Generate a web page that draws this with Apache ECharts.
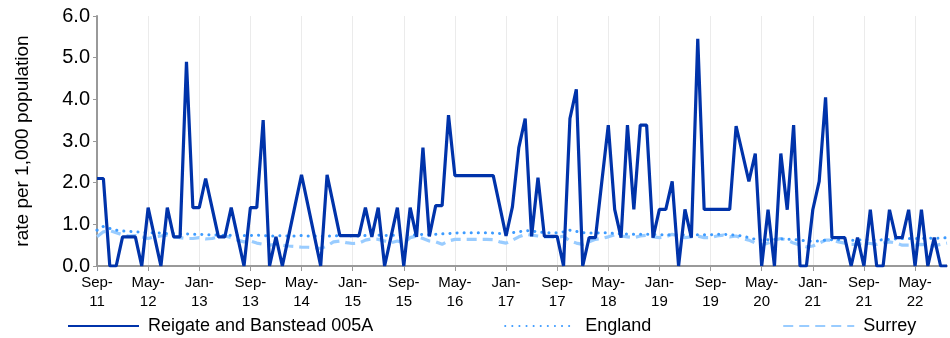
<!DOCTYPE html>
<html>
<head>
<meta charset="utf-8">
<script src="https://cdn.jsdelivr.net/npm/echarts@6/dist/echarts.min.js"></script>
<style>
  html, body { margin: 0; padding: 0; background: #fff; }
  #chart { width: 950px; height: 338px; }
</style>
</head>
<body>
<div id="chart"></div>
<script>
// Monthly rates per 1,000 population, Sep 2011 to Oct 2022
const startYear = 2011;
const startMonth = 8; // September (0-based)
const monthNames = ['Jan', 'Feb', 'Mar', 'Apr', 'May', 'Jun', 'Jul', 'Aug', 'Sep', 'Oct', 'Nov', 'Dec'];

const reigate = [
  2.1, 2.1, 0, 0, 0.7, 0.7, 0.7, 0, 1.4, 0.7,
  0, 1.4, 0.7, 0.7, 4.9, 1.4, 1.4, 2.1, 1.4, 0.7,
  0.7, 1.4, 0.7, 0, 1.4, 1.4, 3.5, 0, 0.7, 0,
  0.73, 1.46, 2.19, 1.46, 0.73, 0, 2.19, 1.46, 0.73, 0.73,
  0.73, 0.73, 1.4, 0.7, 1.4, 0, 0.7, 1.4, 0, 1.4,
  0.7, 2.84, 0.71, 1.45, 1.45, 3.62, 2.17, 2.17, 2.17, 2.17,
  2.17, 2.17, 2.17, 1.45, 0.72, 1.42, 2.84, 3.54, 0.71, 2.12,
  0.71, 0.71, 0.71, 0, 3.54, 4.24, 0, 0.68, 0.68, 2.04,
  3.38, 1.36, 0.68, 3.38, 1.36, 3.38, 3.38, 0.68, 1.36, 1.36,
  2.03, 0, 1.36, 0.68, 5.45, 1.36, 1.36, 1.36, 1.36, 1.36,
  3.36, 2.7, 2.03, 2.7, 0, 1.35, 0, 2.7, 1.35, 3.38,
  0, 0, 1.35, 2.03, 4.05, 0.68, 0.68, 0.68, 0, 0.68,
  0, 1.35, 0, 0, 1.35, 0.68, 0.68, 1.35, 0, 1.35,
  0, 0.68, 0, 0
];

const england = [
  0.86, 0.95, 0.9, 0.86, 0.84, 0.83, 0.82, 0.81, 0.8, 0.8,
  0.79, 0.78, 0.78, 0.77, 0.77, 0.76, 0.76, 0.75, 0.75, 0.74,
  0.74, 0.74, 0.73, 0.73, 0.73, 0.74, 0.73, 0.72, 0.72, 0.73,
  0.72, 0.72, 0.73, 0.72, 0.72, 0.71, 0.72, 0.72, 0.73, 0.73,
  0.72, 0.72, 0.73, 0.74, 0.74, 0.73, 0.74, 0.74, 0.73, 0.75,
  0.75, 0.76, 0.75, 0.76, 0.77, 0.78, 0.79, 0.8, 0.8, 0.8,
  0.8, 0.8, 0.79, 0.78, 0.78, 0.8, 0.82, 0.85, 0.84, 0.82,
  0.8, 0.8, 0.8, 0.82, 0.86, 0.83, 0.8, 0.79, 0.79, 0.8,
  0.8, 0.78, 0.77, 0.77, 0.76, 0.76, 0.76, 0.76, 0.75, 0.75,
  0.75, 0.75, 0.75, 0.75, 0.75, 0.75, 0.75, 0.76, 0.76, 0.75,
  0.74, 0.72, 0.68, 0.64, 0.62, 0.63, 0.64, 0.65, 0.64, 0.64,
  0.62, 0.6, 0.6, 0.6, 0.62, 0.63, 0.63, 0.62, 0.62, 0.62,
  0.63, 0.63, 0.62, 0.63, 0.64, 0.65, 0.66, 0.66, 0.66, 0.66,
  0.67, 0.66, 0.67, 0.68
];

const surrey = [
  0.7, 0.82, 0.85, 0.8, 0.75, 0.72, 0.73, 0.7, 0.66, 0.7,
  0.72, 0.74, 0.7, 0.68, 0.66, 0.66, 0.68, 0.65, 0.66, 0.7,
  0.72, 0.68, 0.62, 0.58, 0.6, 0.55, 0.52, 0.5, 0.52, 0.5,
  0.48, 0.47, 0.45, 0.45, 0.44, 0.42, 0.48, 0.58, 0.6, 0.56,
  0.54, 0.55, 0.62, 0.65, 0.64, 0.6, 0.56, 0.6, 0.55, 0.68,
  0.72, 0.66, 0.6, 0.58, 0.52, 0.6, 0.64, 0.64, 0.64, 0.64,
  0.64, 0.64, 0.63, 0.58, 0.55, 0.62, 0.7, 0.76, 0.74, 0.72,
  0.7, 0.7, 0.68, 0.72, 0.6, 0.55, 0.52, 0.58, 0.64, 0.66,
  0.7, 0.75, 0.72, 0.7, 0.68, 0.72, 0.74, 0.7, 0.68, 0.7,
  0.76, 0.72, 0.68, 0.7, 0.72, 0.68, 0.68, 0.72, 0.74, 0.7,
  0.72, 0.66, 0.62, 0.55, 0.5, 0.55, 0.62, 0.66, 0.62, 0.55,
  0.5, 0.46, 0.48, 0.55, 0.62, 0.62, 0.58, 0.55, 0.52, 0.52,
  0.55, 0.54, 0.52, 0.55, 0.58, 0.55, 0.5, 0.5, 0.5, 0.52,
  0.5, 0.48, 0.52, 0.55
];

// Month labels such as "Sep-\n11"
const categories = reigate.map(function (_, i) {
  const m = (startMonth + i) % 12;
  const y = startYear + Math.floor((startMonth + i) / 12);
  return monthNames[m] + '-\n' + String(y % 100).padStart(2, '0');
});

const FONT = 'Liberation Sans, Arial, sans-serif';
const chart = echarts.init(document.getElementById('chart'), null, { renderer: 'canvas' });

chart.setOption({
  animation: false,
  backgroundColor: '#ffffff',
  grid: { left: 97, right: 3, top: 16, bottom: 72, containLabel: false },
  legend: {
    left: 67,
    top: 317,
    padding: 0,
    itemWidth: 71,
    itemHeight: 12,
    itemGap: 131,
    itemStyle: { opacity: 0 },
    textStyle: { fontFamily: FONT, fontSize: 18, color: '#000', padding: [0, 0, 0, 4] },
    data: ['Reigate and Banstead 005A', 'England', 'Surrey']
  },
  xAxis: {
    type: 'category',
    boundaryGap: false,
    data: categories,
    axisLine: { lineStyle: { color: '#999999', width: 2 } },
    axisTick: { show: true, interval: 7, length: 5, lineStyle: { color: '#999999', width: 1 } },
    splitLine: { show: true, interval: 7, lineStyle: { color: '#ebebeb', width: 1 } },
    axisLabel: {
      interval: 7,
      fontFamily: FONT,
      fontSize: 15,
      lineHeight: 19,
      color: '#000',
      margin: 7
    }
  },
  yAxis: {
    type: 'value',
    min: 0,
    max: 6,
    interval: 1,
    name: 'rate per 1,000 population',
    nameLocation: 'middle',
    nameGap: 65,
    nameTextStyle: { fontFamily: FONT, fontSize: 19, color: '#000' },
    axisLine: { show: true, lineStyle: { color: '#999999', width: 2 } },
    axisTick: { show: true, length: 4, lineStyle: { color: '#999999' } },
    splitLine: { show: false },
    axisLabel: {
      fontFamily: FONT,
      fontSize: 20,
      color: '#000',
      margin: 7,
      formatter: function (v) { return v.toFixed(1); }
    }
  },
  series: [
    {
      name: 'Reigate and Banstead 005A',
      type: 'line',
      data: reigate,
      symbol: 'none',
      z: 3,
      lineStyle: { color: '#0033aa', width: 3.2 },
      itemStyle: { color: '#0033aa' }
    },
    {
      name: 'England',
      type: 'line',
      data: england,
      symbol: 'none',
      z: 2,
      lineStyle: { color: '#3d9bff', width: 3, type: [0.1, 7], cap: 'round' },
      itemStyle: { color: '#3d9bff' }
    },
    {
      name: 'Surrey',
      type: 'line',
      data: surrey,
      symbol: 'none',
      z: 1,
      lineStyle: { color: '#99ccff', width: 3.2, type: [10, 6] },
      itemStyle: { color: '#99ccff' }
    }
  ]
});
</script>
</body>
</html>
